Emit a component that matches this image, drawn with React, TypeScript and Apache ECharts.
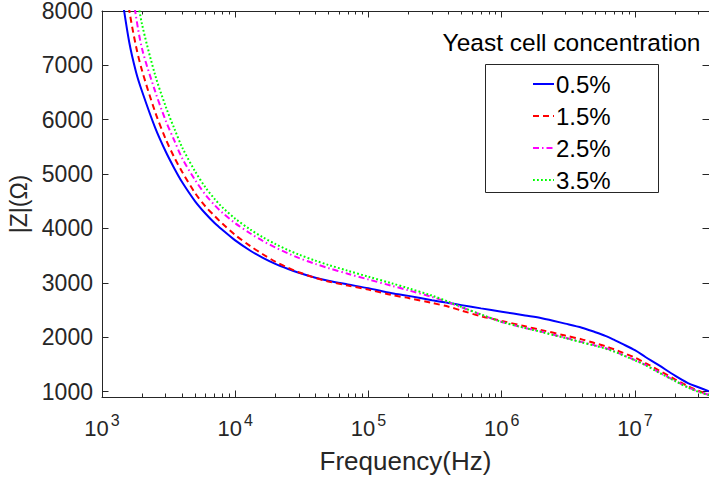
import React, { useEffect, useRef } from "react";
import * as echarts from "echarts";

// Frequency grid (Hz)
const frequencies = [
  1200, 1400, 1600, 1800, 2000, 2500, 3000, 3500, 4000, 5000, 6000, 7000, 8000,
  1e4, 1.3e4, 1.6e4, 2e4, 2.5e4, 3e4, 4e4, 5e4, 7e4, 1e5, 1.5e5, 2e5, 3e5, 4e5,
  5e5, 7e5, 1e6, 1.5e6, 2e6, 3e6, 4e6, 5e6, 6e6, 7e6, 8e6, 1e7, 1.2e7, 1.5e7,
  2e7, 2.5e7, 3e7, 3.6e7,
];

// |Z| (Ohm) for each yeast cell concentration
const z05 = [
  9500, 8330, 7430, 6880, 6520, 5860, 5420, 5100, 4850, 4500, 4270, 4100, 3975,
  3780, 3590, 3465, 3350, 3255, 3185, 3094, 3038, 2970, 2900, 2810, 2760, 2680, 2630,
  2590, 2530, 2470, 2400, 2350, 2250, 2175, 2095, 2025, 1950, 1880, 1760, 1636, 1490,
  1292, 1156, 1080, 1004,
];
const z15 = [
  11000, 9000, 8020, 7350, 6900, 6150, 5650, 5300, 5040, 4650, 4400, 4230, 4090,
  3880, 3675, 3530, 3390, 3275, 3195, 3090, 3025, 2950, 2875, 2775, 2720, 2630, 2560,
  2490, 2385, 2300, 2200, 2130, 2030, 1960, 1890, 1835, 1775, 1720, 1625, 1525, 1395,
  1225, 1100, 1015, 940,
];
const z25 = [
  12500, 9700, 8750, 7900, 7300, 6530, 5990, 5610, 5290, 4890, 4617, 4430, 4290,
  4097, 3907, 3775, 3650, 3539, 3458, 3348, 3272, 3167, 3062, 2945, 2862, 2740, 2640,
  2550, 2415, 2280, 2170, 2100, 1990, 1910, 1850, 1800, 1740, 1680, 1580, 1490, 1360,
  1200, 1080, 1000, 940,
];
const z35 = [
  13500, 10300, 9300, 8400, 7750, 6830, 6250, 5830, 5490, 5050, 4750, 4545, 4390,
  4180, 3980, 3843, 3715, 3602, 3520, 3408, 3330, 3222, 3112, 2990, 2900, 2765, 2650,
  2555, 2418, 2282, 2170, 2095, 1985, 1905, 1845, 1790, 1735, 1675, 1575, 1485, 1355,
  1195, 1075, 995, 935,
];

const seriesNames = ["0.5%", "1.5%", "2.5%", "3.5%"];
const seriesValues = [z05, z15, z25, z35];
const seriesColors = ["#0000ff", "#ff0000", "#ff00ff", "#00ff00"];
const seriesDash: any[] = ["solid", [6, 4], [6, 3, 1.5, 3], [1.8, 2.2]];

const yTicks = [1000, 2000, 3000, 4000, 5000, 6000, 7000, 8000];
const xMajorTicks = [1e3, 1e4, 1e5, 1e6, 1e7];
const X_MIN = 1000;
const X_MAX = 3.6e7;
const Y_MIN = 900;
const Y_MAX = 8000;

const xMinorTicks: number[] = [];
for (let e = 3; e <= 7; e++) {
  for (let k = 2; k <= 9; k++) {
    const v = k * Math.pow(10, e);
    if (v <= X_MAX) xMinorTicks.push(v);
  }
}

const FONT = "'Liberation Sans', Arial, Helvetica, sans-serif";
const AX = "#262626";

export default function App() {
  const ref = useRef<HTMLDivElement>(null);
  useEffect(() => {
    if (!ref.current) return;
    const chart = echarts.init(ref.current, undefined, { renderer: "svg" });
    const logAxisBase = (position: string, major: boolean, labels: boolean, line: boolean) => ({
      type: "log",
      logBase: 10,
      position,
      min: X_MIN,
      max: X_MAX,
      gridIndex: 0,
      axisLine: { show: line, onZero: false, lineStyle: { color: AX, width: 1 } },
      axisTick: {
        show: true,
        inside: true,
        length: major ? 6.5 : 3.5,
        customValues: major ? xMajorTicks : xMinorTicks,
        lineStyle: { color: AX, width: 1 },
      },
      axisLabel: labels
        ? {
            show: true,
            customValues: xMajorTicks,
            margin: 20,
            formatter: (v: number) => `{b|10}{s|${Math.round(Math.log10(v))}}`,
            rich: {
              b: { fontSize: 22, fontFamily: FONT, color: AX, lineHeight: 22, verticalAlign: "bottom" },
              s: { fontSize: 16, fontFamily: FONT, color: AX, lineHeight: 16, padding: [0, 0, 11, 2], verticalAlign: "bottom" },
            },
          }
        : { show: false },
      splitLine: { show: false },
    });
    const option: any = {
      animation: false,
      backgroundColor: "#ffffff",
      grid: { left: 102, right: 0, top: 11, bottom: 80, containLabel: false, outerBoundsMode: "none" },
      xAxis: [
        {
          ...logAxisBase("bottom", true, true, true),
          name: "Frequency(Hz)",
          nameLocation: "middle",
          nameGap: 51,
          nameTextStyle: { fontSize: 26, fontFamily: FONT, color: AX },
        },
        logAxisBase("bottom", false, false, false),
        logAxisBase("top", true, false, true),
        logAxisBase("top", false, false, false),
      ],
      yAxis: [
        {
          type: "value",
          position: "left",
          min: Y_MIN,
          max: Y_MAX,
          name: "|Z|(Ω)",
          nameLocation: "middle",
          nameGap: 70,
          nameRotate: 90,
          nameTextStyle: { fontSize: 23, fontFamily: FONT, color: AX },
          axisLine: { show: true, onZero: false, lineStyle: { color: AX, width: 1 } },
          axisTick: { show: true, inside: true, length: 6.5, customValues: yTicks, lineStyle: { color: AX } },
          axisLabel: {
            show: true,
            customValues: yTicks,
            margin: 9,
            fontSize: 23,
            lineHeight: 20,
            fontFamily: FONT,
            color: AX,
            formatter: (v: number) => String(v),
          },
          splitLine: { show: false },
        },
        {
          type: "value",
          position: "right",
          min: Y_MIN,
          max: Y_MAX,
          axisLine: { show: true, onZero: false, lineStyle: { color: AX, width: 1 } },
          axisTick: { show: true, inside: true, length: 6.5, customValues: yTicks, lineStyle: { color: AX } },
          axisLabel: { show: false },
          splitLine: { show: false },
        },
      ],
      legend: {
        show: true,
        orient: "vertical",
        left: 532,
        top: 72,
        padding: 0,
        itemGap: 8,
        itemWidth: 21,
        itemHeight: 10,
        data: seriesNames,
        itemStyle: { opacity: 0 },
        textStyle: { fontSize: 24, fontFamily: FONT, color: "#000", padding: [0, 0, 0, -3] },
        z: 10,
      },
      graphic: [
        {
          type: "rect",
          z: 5,
          shape: { x: 485.5, y: 64.5, width: 173, height: 128 },
          style: { fill: "#ffffff", stroke: AX, lineWidth: 1 },
        },
        {
          type: "text",
          z: 6,
          x: 571.5,
          y: 42,
          style: {
            text: "Yeast cell concentration",
            fontSize: 24.5,
            fontFamily: FONT,
            fill: "#000",
            align: "center",
            verticalAlign: "middle",
          },
        },
      ],
      series: seriesNames.map((name, i) => ({
        name,
        type: "line",
        xAxisIndex: 0,
        yAxisIndex: 0,
        data: frequencies.map((f, j) => [f, seriesValues[i][j]]),
        symbol: "none",
        showSymbol: false,
        smooth: 0.3,
        clip: true,
        lineStyle: { color: seriesColors[i], width: 2, type: seriesDash[i] },
        itemStyle: { color: seriesColors[i] },
      })),
    };
    chart.setOption(option);
    return () => chart.dispose();
  }, []);
  return (
    <div
      ref={ref}
      style={{ position: "fixed", left: 0, top: 0, width: 709, height: 477, background: "#fff" }}
    />
  );
}
